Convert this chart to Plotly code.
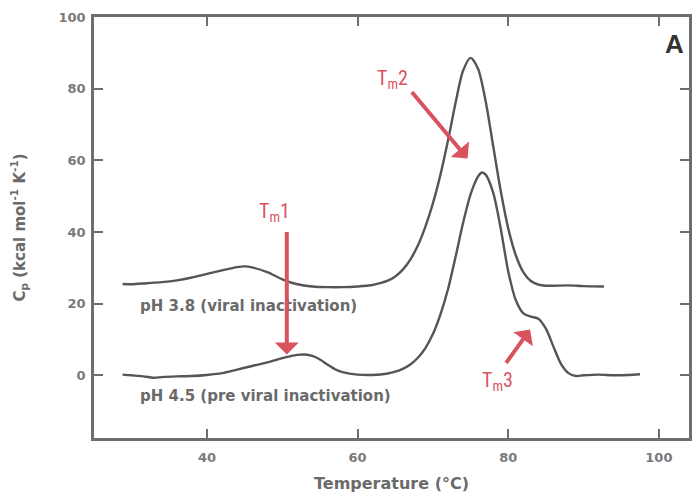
import plotly.graph_objects as go

# pH 3.8 (viral inactivation)
t_ph38 = [28.8, 30, 32, 34, 36, 38, 40, 42, 44, 45, 46, 48, 50, 52, 54, 56, 58, 60, 62, 63, 64, 65,
          66, 67, 68, 69, 70, 71, 72, 73, 74, 75, 76, 77, 78, 79, 80, 81, 82, 83, 84, 85, 86, 88, 90, 92.7]
cp_ph38 = [25.5, 25.4, 25.7, 26.0, 26.5, 27.3, 28.3, 29.3, 30.2, 30.4, 30.1, 28.8, 26.8, 25.4, 24.8, 24.6,
           24.6, 24.8, 25.2, 25.7, 26.4, 27.6, 29.5, 32.3, 36.2, 41.5, 48.0, 56.0, 65.5, 76.0, 85.0, 88.6,
           85.5, 76.5, 64.0, 51.5, 41.0, 33.5, 28.8, 26.3, 25.3, 25.0, 25.0, 25.1, 24.9, 24.8]

# pH 4.5 (pre viral inactivation)
t_ph45 = [28.8, 30, 32, 33, 34, 36, 38, 40, 42, 44, 46, 48, 50, 51, 52, 53, 54, 55, 56, 57, 58, 60, 62,
          64, 65, 66, 67, 68, 69, 70, 71, 72, 73, 74, 75, 76, 76.5, 77, 78, 79, 80, 81, 82, 83, 84, 85,
          86, 87, 88, 89, 90, 92, 94, 96, 97.5]
cp_ph45 = [0.2, 0.0, -0.4, -0.7, -0.5, -0.3, -0.2, 0.1, 0.6, 1.6, 2.6, 3.6, 4.8, 5.3, 5.7, 5.8, 5.4, 4.4,
           3.0, 1.7, 0.9, 0.2, 0.1, 0.5, 1.0, 1.8, 3.0, 4.9, 7.6, 11.5, 17.0, 24.0, 33.0, 42.5, 50.5, 55.5,
           56.6, 56.0, 51.0, 41.0, 29.0, 21.0, 17.3, 16.4, 15.8, 13.0, 8.0, 3.2, 0.6, -0.2, 0.0, 0.2, 0.0,
           0.1, 0.3]

x_ticks = [40, 60, 80, 100]
y_ticks = [0, 20, 40, 60, 80, 100]

line_col = "#555555"
axis_col = "#6e6e6e"
red = "#d9535f"
txt_font = "DejaVu Sans"

fig = go.Figure()
for xs, ys in ((t_ph38, cp_ph38), (t_ph45, cp_ph45)):
    fig.add_trace(go.Scatter(x=xs, y=ys, mode="lines",
                             line=dict(color=line_col, width=2.4, shape="spline", smoothing=0.8),
                             showlegend=False))

axis_common = dict(showline=True, linecolor=axis_col, linewidth=2.5, mirror="allticks", ticks="inside",
                   ticklen=9, tickwidth=2, tickcolor=axis_col, showgrid=False, zeroline=False,
                   tickfont=dict(family=txt_font, size=13, color="#7a7a7a", weight="bold"))

fig.update_xaxes(range=[25, 104], tickvals=x_ticks, ticklabelstandoff=6, **axis_common,
                 title=dict(text="Temperature (°C)", font=dict(family=txt_font, size=16, color="#6a6a6a", weight="bold"), standoff=14))
fig.update_yaxes(range=[-17.5, 100], tickvals=y_ticks, ticklabelstandoff=3, **axis_common,
                 title=dict(text="C<sub>p</sub> (kcal mol<sup>-1</sup> K<sup>-1</sup>)", font=dict(family=txt_font, size=15, color="#6a6a6a", weight="bold"), standoff=30))

ann = []
ann.append(dict(x=30.8, y=19.4, xref="x", yref="y", text="pH 3.8 (viral inactivation)", showarrow=False, xanchor="left", yanchor="middle",
                font=dict(family=txt_font, size=15, color="#6a6a6a", weight="bold")))
ann.append(dict(x=30.8, y=-5.8, xref="x", yref="y", text="pH 4.5 (pre viral inactivation)", showarrow=False, xanchor="left", yanchor="middle",
                font=dict(family=txt_font, size=15, color="#6a6a6a", weight="bold")))
ann.append(dict(x=1.0, y=0.935, xref="paper", yref="paper", text="<b>A</b>", showarrow=False, xanchor="right", yanchor="middle",
                xshift=-3, font=dict(family="Liberation Sans", size=26, color="#333333")))

lab_font = dict(family="Liberation Sans Narrow, Roboto Condensed, Liberation Sans", size=20, color=red)
# arrows (tip at data point, tail offset in px)
ann.append(dict(x=50.6, y=5.8, xref="x", yref="y", ax=0, ay=-124, text="", showarrow=True, arrowhead=1, arrowsize=1, arrowwidth=4, arrowcolor=red))
ann.append(dict(x=74.6, y=60.5, xref="x", yref="y", ax=-57, ay=-68, text="", showarrow=True, arrowhead=1, arrowsize=1, arrowwidth=4, arrowcolor=red))
ann.append(dict(x=82.9, y=12.8, xref="x", yref="y", ax=-25, ay=35, text="", showarrow=True, arrowhead=1, arrowsize=1, arrowwidth=4, arrowcolor=red))
# labels
ann.append(dict(x=46.7, y=45.5, xref="x", yref="y", text="T<sub>m</sub>1", showarrow=False, xanchor="left", yanchor="middle", font=lab_font))
ann.append(dict(x=62.3, y=82.8, xref="x", yref="y", text="T<sub>m</sub>2", showarrow=False, xanchor="left", yanchor="middle", font=lab_font))
ann.append(dict(x=76.2, y=-1.5, xref="x", yref="y", text="T<sub>m</sub>3", showarrow=False, xanchor="left", yanchor="middle", font=lab_font))

fig.update_layout(width=697, height=496, margin=dict(l=94, r=5, t=17, b=56),
                  paper_bgcolor="white", plot_bgcolor="white", annotations=ann)

fig.write_html("out.html")
